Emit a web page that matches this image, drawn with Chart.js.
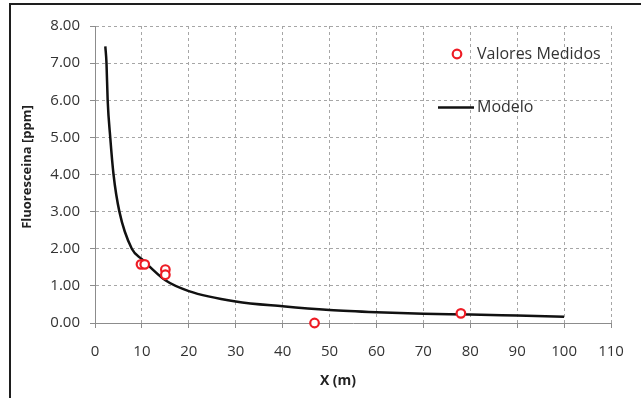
<!DOCTYPE html>
<html>
<head>
<meta charset="utf-8">
<script src="https://cdn.jsdelivr.net/npm/chart.js@4/dist/chart.umd.min.js"></script>
<style>
  html, body { margin: 0; padding: 0; background: #fff; }
  #wrap { position: relative; width: 641px; height: 398px; overflow: hidden; }
  #frame {
    position: absolute; left: 9px; top: 3px; width: 700px; height: 500px;
    border: 2.5px solid #1e1e1e; box-sizing: border-box;
  }
  #chart { position: absolute; left: 0; top: 0; }
</style>
</head>
<body>
<div id="wrap">
  <div id="frame"></div>
  <canvas id="chart" width="641" height="398"></canvas>
</div>
<script>
// measured points (x in m, fluoresceina in ppm)
const measX = [9.8, 10.6, 15.0, 15.0, 46.8, 78.0];
const measY = [1.58, 1.58, 1.44, 1.30, 0.0, 0.26];

// model curve
const modelX = [2.2, 2.45, 2.7, 3.25, 3.95, 5.2, 7.85, 10, 15, 20, 30, 40, 50, 60, 70, 80, 90, 100];
const modelY = [7.45, 7.0, 6.0, 5.0, 4.0, 3.0, 2.0, 1.72, 1.15, 0.86, 0.58, 0.45, 0.35, 0.29, 0.25, 0.23, 0.2, 0.17];

const xTicks = [0, 10, 20, 30, 40, 50, 60, 70, 80, 90, 100, 110];
const yTicks = [0, 1, 2, 3, 4, 5, 6, 7, 8];

const labels = ["Valores Medidos", "Modelo"];
const xTitle = "X (m)";
const yTitle = "Fluoresceina [ppm]";

const FONT = "'Open Sans', sans-serif";
const txtColor = "#333";

const toPts = (xs, ys) => xs.map((x, i) => ({ x: x, y: ys[i] }));

// draws axis titles and the in-plot legend
const extras = {
  id: "extras",
  afterDraw(chart) {
    const ctx = chart.ctx;
    ctx.save();
    ctx.fillStyle = "#222";
    ctx.textAlign = "center";
    ctx.textBaseline = "middle";
    ctx.font = "bold 14px " + FONT;
    ctx.fillText(xTitle, 338, 381);
    ctx.font = "bold 13px " + FONT;
    ctx.translate(27, 167);
    ctx.rotate(-Math.PI / 2);
    ctx.fillText(yTitle, 0, 0);
    ctx.restore();

    ctx.save();
    ctx.font = "16px " + FONT;
    ctx.textBaseline = "middle";
    ctx.textAlign = "left";
    // Valores Medidos
    ctx.beginPath();
    ctx.arc(457, 54, 4.3, 0, Math.PI * 2);
    ctx.fillStyle = "#fff";
    ctx.fill();
    ctx.lineWidth = 2.2;
    ctx.strokeStyle = "#ee1c25";
    ctx.stroke();
    ctx.fillStyle = txtColor;
    ctx.fillText(labels[0], 477, 54);
    // Modelo
    ctx.beginPath();
    ctx.moveTo(438, 107.5);
    ctx.lineTo(474, 107.5);
    ctx.lineWidth = 2.5;
    ctx.strokeStyle = "#111";
    ctx.stroke();
    ctx.fillText(labels[1], 477, 107);
    ctx.restore();
  }
};

new Chart(document.getElementById("chart"), {
  type: "scatter",
  data: {
    datasets: [
      {
        label: labels[0],
        data: toPts(measX, measY),
        showLine: false,
        pointRadius: 4.3,
        pointBorderWidth: 2.2,
        pointBorderColor: "#ee1c25",
        pointBackgroundColor: "#fff",
        clip: false,
        order: 0
      },
      {
        label: labels[1],
        data: toPts(modelX, modelY),
        showLine: true,
        borderColor: "#111",
        borderWidth: 2.5,
        pointRadius: 0,
        cubicInterpolationMode: "monotone",
        order: 1
      }
    ]
  },
  options: {
    responsive: false,
    animation: false,
    layout: { padding: { left: 0, top: 26, right: 30, bottom: 0 } },
    plugins: { legend: { display: false }, tooltip: { enabled: false } },
    scales: {
      x: {
        type: "linear",
        min: 0,
        max: 110,
        afterBuildTicks: (s) => { s.ticks = xTicks.map(v => ({ value: v })); },
        afterFit: (s) => { s.height = 75; },
        ticks: { color: txtColor, font: { family: FONT, size: 15 }, padding: 15, maxRotation: 0 },
        grid: { color: "#a6a6a6", tickLength: 5, tickColor: "#8c8c8c" },
        border: { color: "#8c8c8c", dash: [3, 3] }
      },
      y: {
        min: 0,
        max: 8,
        afterBuildTicks: (s) => { s.ticks = yTicks.map(v => ({ value: v })); },
        afterFit: (s) => { s.width = 95; },
        ticks: { color: txtColor, font: { family: FONT, size: 15 }, padding: 10, callback: (v) => v.toFixed(2) },
        grid: { color: "#a6a6a6", tickLength: 5, tickColor: "#8c8c8c" },
        border: { color: "#8c8c8c", dash: [3, 3] }
      }
    }
  },
  plugins: [extras]
});
</script>
</body>
</html>
